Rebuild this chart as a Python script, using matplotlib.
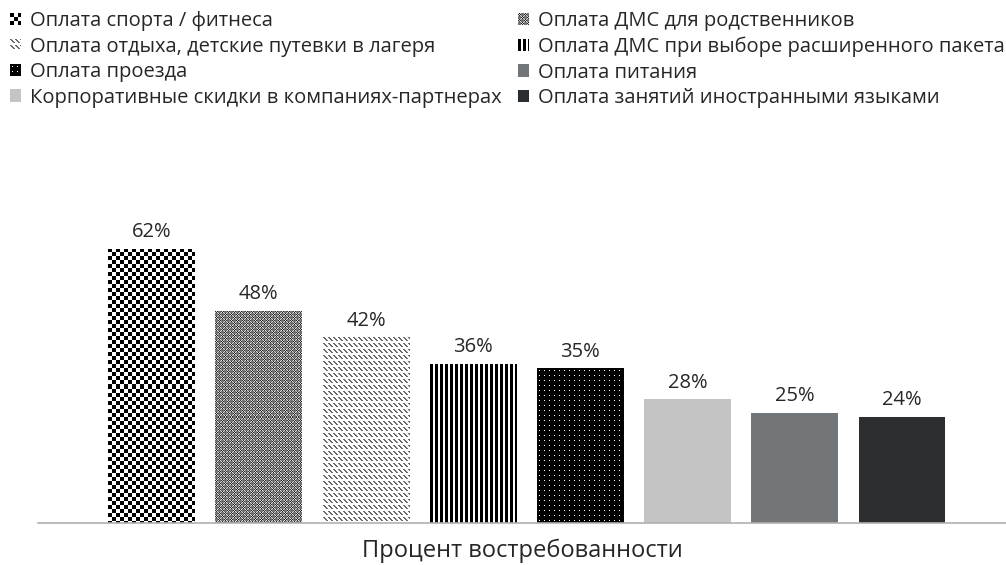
import numpy as np
import matplotlib
matplotlib.use("Agg")
import matplotlib.pyplot as plt
from matplotlib.patches import Rectangle
from matplotlib.legend_handler import HandlerBase
import matplotlib.colors as mcolors

plt.rcParams['font.family'] = ['Open Sans', 'DejaVu Sans']

categories = ["Оплата спорта / фитнеса",
              "Оплата ДМС для родственников",
              "Оплата отдыха, детские путевки в лагеря",
              "Оплата ДМС при выборе расширенного пакета",
              "Оплата проезда",
              "Корпоративные скидки в компаниях-партнерах",
              "Оплата питания",
              "Оплата занятий иностранными языками"]
values = [62, 48, 42, 36, 35, 28, 25, 24]
value_labels = ["62%", "48%", "42%", "36%", "35%", "28%", "25%", "24%"]
xlabel = "Процент востребованности"


def checker(n):
    yy, xx = np.mgrid[0:2 * n, 0:2 * n]
    return (((xx // n) + (yy // n)) % 2).astype(int)


def fine_block():
    # 0 = gray, 1 = light, 2 = dark ; small checker blocks on gray
    t = np.zeros((6, 6), int)
    for r in range(3):
        for c in range(3):
            t[r, c] = 1 if (r + c) % 2 == 0 else 2
    for r in range(3, 6):
        for c in range(3, 6):
            t[r, c] = 1 if (r + c) % 2 == 0 else 2
    return t


def diag_dash():
    t = np.zeros((6, 5), int)
    for r in range(4):
        t[r, r] = 1
        t[r, (r + 1) % 5] = 1
    return t


def vstripes():
    t = np.zeros((1, 5), int)
    t[0, 0:3] = 1
    return t


def dots():
    t = np.zeros((5, 5), int)
    t[2, 2] = 1
    return t


# pattern tiles: index into colour list
styles = [
    dict(fc="#000000", tile=checker(4), cols=["#000000", "#ffffff"]),
    dict(fc="#7a7a7a", tile=fine_block(), cols=["#747474", "#d8d8d8", "#2a2a2a"]),
    dict(fc="#ffffff", tile=diag_dash(), cols=["#ffffff", "#6a6a6a"]),
    dict(fc="#ffffff", tile=vstripes(), cols=["#ffffff", "#000000"]),
    dict(fc="#000000", tile=dots(), cols=["#000000", "#ffffff"]),
    dict(fc="#c4c4c4", tile=None),
    dict(fc="#737679", tile=None),
    dict(fc="#2b2e31", tile=None),
]


def tile_image(tile, ny, nx, cols):
    th, tw = tile.shape
    reps = (ny // th + 1, nx // tw + 1)
    big = np.tile(tile, reps)[:ny, :nx]
    pal = np.array([mcolors.to_rgb(c) for c in cols])
    return pal[big]


class PatternHandler(HandlerBase):
    def __init__(self, style, px=72.0 / 100.0):
        super().__init__()
        self.style = style
        self.px = px

    def create_artists(self, legend, orig_handle, xdescent, ydescent,
                       width, height, fontsize, trans):
        s = self.style
        if s["tile"] is None:
            return [Rectangle((-xdescent, -ydescent), width, height,
                              facecolor=s["fc"], edgecolor="none",
                              transform=trans)]
        arts = [Rectangle((-xdescent, -ydescent), width, height,
                          facecolor=s["cols"][0], edgecolor="none",
                          transform=trans)]
        nx = int(round(width / self.px))
        ny = int(round(height / self.px))
        th, tw = s["tile"].shape
        for r in range(ny):
            for c in range(nx):
                k = s["tile"][r % th, c % tw]
                if k != 0:
                    arts.append(Rectangle(
                        (-xdescent + c * self.px,
                         -ydescent + height - (r + 1) * self.px),
                        self.px, self.px, facecolor=s["cols"][k],
                        edgecolor="none", transform=trans))
        return arts


fig = plt.figure(figsize=(10.06, 5.65), dpi=100)
ax = fig.add_axes([0.0378, 0.074, 0.9622, 0.548])

x = np.arange(len(values))
width = 0.81
bars = []
for i, (v, s) in enumerate(zip(values, styles)):
    b = ax.bar(x[i], v, width=width, color=s["fc"], linewidth=0,
               label=categories[i])
    bars.append(b[0])
    ax.text(x[i], v + 1.5, value_labels[i], ha="center", va="bottom",
            fontsize=14.5, color="#262626")

ax.set_xlim(-1.06, 7.97)
ax.set_ylim(0, 70)
for sp in ["top", "left", "right"]:
    ax.spines[sp].set_visible(False)
ax.spines["bottom"].set_color("#b0b0b0")
ax.spines["bottom"].set_linewidth(1.2)
ax.set_xticks([])
ax.set_yticks([])
ax.set_xlabel(xlabel, fontsize=17, color="#262626", labelpad=11)

fig.canvas.draw()
for bar, s in zip(bars, styles):
    if s["tile"] is not None:
        bb = bar.get_window_extent()
        nx = max(2, int(round(bb.width)))
        ny = max(2, int(round(bb.height)))
        img = tile_image(s["tile"], ny, nx, s["cols"])
        x0, y0 = bar.get_x(), bar.get_y()
        im = ax.imshow(img, extent=(x0, x0 + bar.get_width(), y0, y0 + bar.get_height()),
                       interpolation="nearest", aspect="auto",
                       zorder=bar.get_zorder() + 0.1)
        im.set_clip_path(bar)
ax.set_xlim(-1.06, 7.97)
ax.set_ylim(0, 70)

order = [0, 2, 4, 5, 1, 3, 6, 7]
handles = [bars[i] for i in order]
labels = [categories[i] for i in order]
hmap = {bars[i]: PatternHandler(styles[i]) for i in range(len(bars))}
fig.legend(handles, labels, loc="upper left", bbox_to_anchor=(-0.008, 1.012),
           ncol=2, frameon=False, fontsize=14.5, handlelength=0.55,
           handleheight=0.55, handletextpad=0.45, columnspacing=0.8,
           labelspacing=0.27, labelcolor="#262626", handler_map=hmap)

fig.savefig("out.png", dpi=100)
